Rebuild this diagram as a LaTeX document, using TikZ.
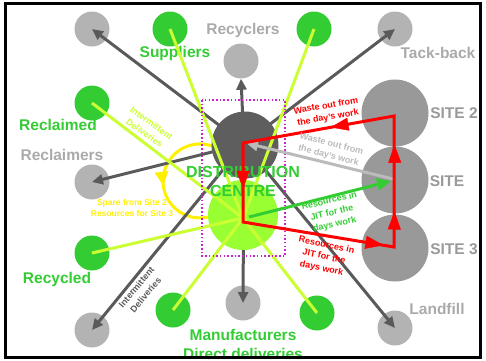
\documentclass[tikz,border=0pt]{standalone}
\usepackage{fontspec}
\setmainfont{Liberation Sans}
\usetikzlibrary{arrows.meta,decorations.markings}

\definecolor{arrowgray}{HTML}{5A5A5A}
\definecolor{hubgray}{HTML}{5E5E5E}
\definecolor{dotgray}{HTML}{B3B3B3}
\definecolor{sitegray}{HTML}{999999}
\definecolor{labelgray}{HTML}{AAAAAA}
\definecolor{leafgreen}{HTML}{33CC33}
\definecolor{hubgreen}{HTML}{99FF33}
\definecolor{limegreen}{HTML}{CCFF33}
\definecolor{wastegray}{HTML}{BBBBBB}
\definecolor{loopyellow}{HTML}{FFF000}
\definecolor{framemagenta}{HTML}{CC22CC}

\begin{document}
\begin{tikzpicture}[x=1pt,y=-1pt,
  smallc/.style={circle, minimum size=35pt, inner sep=0pt, draw=none},
  graydot/.style={smallc, fill=dotgray},
  greendot/.style={smallc, fill=leafgreen},
  sitec/.style={circle, minimum size=67pt, inner sep=0pt, fill=sitegray},
  outarrow/.style={draw=arrowgray, line width=3pt, -{Triangle[length=11pt,width=10pt]}},
  feedline/.style={draw=limegreen, line width=3pt},
  biglabel/.style={font=\fontsize{15.5}{18}\selectfont\bfseries, inner sep=0pt},
  sitelabel/.style={biglabel, text=sitegray},
  note/.style={font=\fontsize{9}{12}\selectfont\bfseries, align=center, inner sep=0pt},
  flowtip/.style={postaction={decorate}, decoration={markings,
      mark=at position #1 with {\arrow{Triangle[length=18pt,width=13pt]}}}},
  looptip/.style={postaction={decorate}, decoration={markings,
      mark=at position #1 with {\arrow{Triangle[length=14pt,width=13pt]}}}},
]
\useasboundingbox (0,0) rectangle (486,360);

% outer points
\node[graydot]  (gTL)   at (92,29)  {};
\node[greendot] (gSup)  at (170,29) {};
\node[graydot]  (gRcy)  at (241,61) {};
\node[greendot] (gTR)   at (314,29) {};
\node[graydot]  (gTack) at (395,29) {};
\node[greendot] (gRecl) at (92,103) {};
\node[graydot]  (gRclm) at (92,182) {};
\node[greendot] (gRcyd) at (92,253) {};
\node[graydot]  (gBL)   at (92,330) {};
\node[greendot] (gMfL)  at (173,310) {};
\node[graydot]  (gBot)  at (243,303) {};
\node[greendot] (gMfR)  at (317,313) {};
\node[graydot]  (gLand) at (395,328) {};

% sites
\node[sitec] (site2) at (395,113) {};
\node[sitec] (site)  at (395,180) {};
\node[sitec] (site3) at (395,248) {};

% labels
\node[biglabel, text=leafgreen] (lSup)  at (175,53)  {Suppliers};
\node[biglabel, text=labelgray] (lRcy)  at (243,30)  {Recyclers};
\node[biglabel, text=labelgray] (lTack) at (438,53)  {Tack-back};
\node[biglabel, text=leafgreen] (lRecl) at (58,125)  {Reclaimed};
\node[biglabel, text=labelgray] (lRclm) at (62,155)  {Reclaimers};
\node[biglabel, text=leafgreen] (lRcyd) at (57,279)  {Recycled};
\node[biglabel, text=labelgray] (lLand) at (437,309) {Landfill};
\node[biglabel, text=leafgreen, align=center, font=\fontsize{15.5}{19}\selectfont\bfseries]
  (lMf) at (243,344) {Manufacturers\\Direct deliveries};
\node[sitelabel] (lS2) at (454,113) {SITE 2};
\node[sitelabel] (lS)  at (447,181) {SITE};
\node[sitelabel] (lS3) at (454,249) {SITE 3};

% loop of spare resources between sites
\coordinate (loopStart) at (217.4,148.3);
\draw[loopyellow, line width=3pt, looptip=0.55]
  (loopStart) arc[start angle=-62, end angle=-290, radius=37];
\node[note, text=loopyellow, font=\fontsize{8.5}{10.5}\selectfont\bfseries] (lSpare) at (132,208)
  {Spare from Site 2\\Resources for Site 3};

% outgoing flows from the distribution centre
\coordinate (dcC) at (244,144);
\draw[outarrow] (dcC) -- (gTL.center);
\draw[outarrow] (dcC) -- (gRcy.south);
\draw[outarrow] (dcC) -- (gTack.center);
\draw[outarrow] (dcC) -- (gRclm.center);
\draw[outarrow] (dcC) -- (gBL.center);
\draw[outarrow] (dcC) -- (gBot.center);
\draw[outarrow] (dcC) -- (gLand.center);

% distribution centre
\node[circle, fill=hubgray, minimum size=67pt, inner sep=0pt] (dc) at (245,145) {};
\node[circle, fill=hubgreen, minimum size=70pt, inner sep=0pt] (dcg) at (243,215) {};

% incoming deliveries
\coordinate (hub) at (243,218);
\draw[feedline] (gSup.center) -- (hub);
\draw[feedline] (gTR.center) -- (hub);
\draw[feedline] (gRecl.center) -- (hub);
\draw[feedline] (gRcyd.center) -- (hub);
\draw[feedline] (gMfL.center) -- (hub);
\draw[feedline] (gMfR.center) -- (hub);

\node[note, text=limegreen, rotate=-35] (lIntA) at (148,128) {Intermittent\\Deliveries};
\node[note, text=arrowgray, rotate=50] (lIntB) at (141,291) {Intermittent\\Deliveries};

% centre boundary
\draw[framemagenta, line width=1.5pt, dash pattern=on 1.5pt off 2.2pt] (202,100) rectangle (285,256);

\node[text=leafgreen, align=center, inner sep=0pt,
  font=\fontsize{16}{19}\selectfont\bfseries] (lDC) at (243,181) {DISTRIBUTION\\CENTRE};

% waste and JIT flows
\coordinate (wEnd) at (246,143);
\coordinate (sMid) at (393,179);
\coordinate (jStart) at (249,217);
\coordinate (jEnd) at (391,181);
\draw[wastegray, line width=3pt, -{Triangle[length=12pt,width=10pt]}] (sMid) -- (wEnd);
\draw[leafgreen, line width=3pt, -{Triangle[length=14pt,width=12pt]}] (jStart) -- (jEnd);

\coordinate (rTop) at (243,143);
\coordinate (rBot) at (243,222);
\coordinate (r2) at (394,116);
\coordinate (r3) at (394,247);
\draw[red, line width=3pt, line join=miter] (rBot) -- (r3) -- (r2) -- (rTop) -- cycle;
\path[red, flowtip=0.93] (rBot) -- (r3);
\path[red, flowtip=0.53] (r3) -- (site.center);
\path[red, flowtip=0.55] (site.center) -- (r2);
\path[red, flowtip=0.42] (r2) -- (rTop);
\path[red, flowtip=0.58] (rTop) -- (rBot);

\node[note, text=red, rotate=10] (lWasteR) at (327,112) {Waste out from\\the day's work};
\node[note, text=wastegray, rotate=-15] (lWasteG) at (330,150) {Waste out from\\the day's work};
\node[note, text=leafgreen, rotate=13] (lJitG) at (332,213) {Resources in\\JIT for the\\days work};
\node[note, text=red, rotate=-12] (lJitR) at (324,257) {Resources in\\JIT for the\\days work};

% frame
\draw[black, line width=3pt] (5.5,3.5) rectangle (480.5,357.5);
\end{tikzpicture}
\end{document}
